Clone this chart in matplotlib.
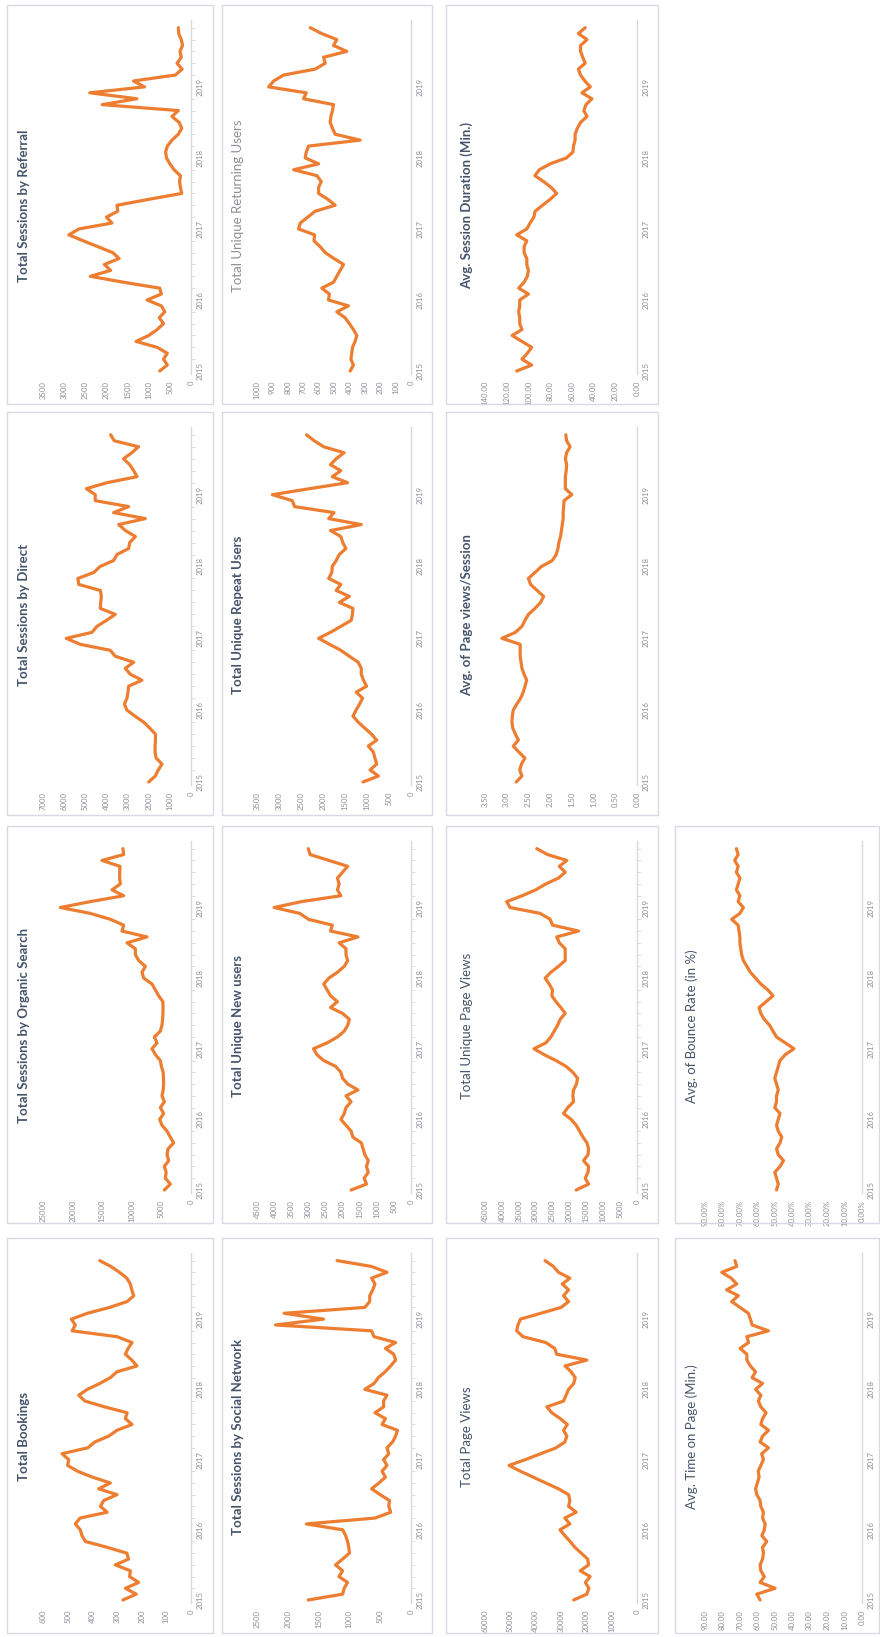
import matplotlib
matplotlib.use("Agg")
import matplotlib.pyplot as plt
from matplotlib.patches import Rectangle
from matplotlib import font_manager
import numpy as np

# Monthly website metrics, Jan 2015 - Nov 2019
months = np.arange(59)
year_ticks = [0, 12, 24, 36, 48]
year_labels = ["2015", "2016", "2017", "2018", "2019"]

referral = [740, 560, 650, 560, 800, 1300, 1000, 800, 650, 750, 620, 700, 1040, 700, 740,
            1600, 2380, 1900, 2050, 1700, 1850, 2200, 2550, 2890, 2650, 1870, 2000, 1730,
            1750, 1000, 220, 250, 270, 250, 400, 500, 580, 600, 560, 450, 300, 220, 280, 450,
            300, 2100, 1280, 2395, 1100, 1360, 370, 210, 330, 230, 260, 200, 230, 290, 300]
direct = [2000, 1690, 1550, 1370, 1650, 1700, 1700, 1680, 1680, 1950, 2240, 2650, 3030, 3150,
          3030, 2980, 2950, 2320, 2870, 3110, 2710, 3580, 3820, 5240, 5900, 4680, 4450, 4000,
          3580, 4290, 4270, 4240, 4290, 5310, 5350, 4600, 4300, 3660, 3500, 2950, 2900, 2630,
          3100, 3420, 2160, 3660, 2950, 4530, 4530, 4950, 3970, 2550, 2710, 2900, 3190, 2800,
          2480, 3630, 3800]
organic = [4500, 3490, 4330, 4200, 4500, 3770, 4050, 3880, 2930, 3500, 4050, 4900, 5290, 4620,
           5180, 4500, 4900, 4700, 4620, 4650, 4700, 5000, 5180, 6020, 6590, 5740, 6190, 5180,
           4900, 4800, 4730, 4730, 4750, 5460, 6020, 6590, 7990, 8280, 7710, 8840, 9400, 9400,
           10810, 7430, 11650, 11370, 13620, 17000, 22070, 17000, 11370, 13340, 11940, 12050,
           12050, 12000, 15030, 11370, 11500]
bookings = [276, 222, 266, 212, 249, 246, 307, 253, 260, 340, 428, 442, 449, 469, 450, 340, 367,
            354, 300, 374, 327, 400, 460, 500, 496, 523, 419, 390, 334, 300, 239, 266, 259, 350,
            430, 455, 420, 370, 327, 300, 219, 240, 266, 255, 239, 300, 482, 469, 485, 420, 330,
            259, 232, 240, 246, 260, 290, 325, 370]
social = [1670, 1110, 1085, 1030, 1170, 1110, 1225, 1110, 1000, 1010, 1030, 1060, 1110, 1700,
          585, 330, 360, 350, 500, 640, 520, 415, 470, 390, 445, 360, 390, 300, 250, 220, 470,
          415, 585, 445, 445, 390, 750, 600, 530, 420, 330, 250, 280, 415, 250, 600, 640, 2200,
          1420, 2060, 750, 670, 670, 620, 585, 640, 390, 640, 1200]
new_users = [1750, 1300, 1370, 1250, 1300, 1250, 1350, 1400, 1450, 1700, 1750, 1900, 2050, 1950,
             1900, 1750, 1900, 1550, 1850, 2000, 2050, 2200, 2550, 2750, 2850, 2450, 2150, 1950,
             1850, 1800, 2000, 2350, 2150, 2350, 2450, 2550, 2400, 2150, 1950, 1850, 1900, 1900,
             2100, 1550, 2350, 2300, 3000, 3250, 4000, 3200, 2050, 2150, 2100, 2150, 2000, 1850,
             2400, 2950, 3000]
repeat_users = [1090, 740, 930, 780, 820, 855, 970, 780, 900, 1050, 1200, 1320, 1250, 1170, 1100,
                1245, 1010, 1080, 1130, 1130, 1200, 1400, 1595, 1850, 2100, 1830, 1595, 1360,
                1330, 1320, 1630, 1400, 1700, 1595, 1870, 1800, 1790, 1700, 1630, 1480, 1550,
                1595, 1830, 1130, 1870, 1750, 2645, 2700, 3150, 2300, 1440, 1790, 1595, 1830,
                1700, 1520, 1985, 2200, 2375]
returning = [395, 374, 390, 385, 380, 363, 352, 374, 400, 428, 482, 406, 536, 530, 579, 503, 482,
             460, 438, 500, 557, 590, 630, 626, 730, 719, 670, 622, 492, 540, 600, 600, 583, 611,
             762, 600, 687, 680, 665, 330, 492, 510, 525, 520, 510, 503, 698, 680, 924, 892, 827,
             622, 557, 568, 417, 503, 482, 580, 654]
page_views = [25000, 19800, 19000, 20400, 18500, 22400, 19100, 19500, 22000, 24500, 26400, 28500,
              30400, 26500, 28500, 24000, 27000, 26500, 27000, 31000, 36000, 41000, 46000, 50500,
              44000, 38000, 32000, 28500, 27700, 29000, 27500, 30300, 33600, 35600, 29000, 28000,
              27000, 25000, 24400, 26000, 28400, 19800, 31700, 32500, 36000, 45000, 47500, 47000,
              46000, 38000, 30000, 27000, 29000, 27000, 29500, 26500, 31000, 33000, 36300]
unique_pv = [18000, 14340, 15330, 14500, 14340, 15820, 14500, 14340, 14800, 16000, 17000, 18000,
             19500, 21760, 20500, 18790, 18990, 18800, 17900, 17600, 19000, 21000, 24000, 27500,
             30500, 27000, 25500, 24500, 23500, 22750, 21260, 22550, 24000, 25220, 25000, 26000,
             27200, 25500, 23240, 21260, 21260, 21260, 23000, 23740, 17310, 25000, 25710, 28680,
             37580, 38570, 34000, 30000, 27000, 23240, 21260, 23000, 20770, 26500, 29670]
pv_per_session = [2.78, 2.65, 2.70, 2.66, 2.58, 2.72, 2.85, 2.73, 2.80, 2.86, 2.88, 2.87, 2.85,
                  2.77, 2.68, 2.62, 2.58, 2.54, 2.60, 2.65, 2.67, 2.69, 2.69, 2.69, 3.11, 2.80,
                  2.65, 2.58, 2.50, 2.35, 2.22, 2.15, 2.30, 2.45, 2.50, 2.35, 2.20, 1.95, 1.86,
                  1.82, 1.80, 1.76, 1.74, 1.72, 1.70, 1.70, 1.69, 1.68, 1.50, 1.65, 1.65, 1.65,
                  1.63, 1.62, 1.65, 1.62, 1.54, 1.62, 1.64]
session_duration = [110.8, 97, 106, 101, 97, 106, 115, 106, 108, 108, 109, 108, 108, 100, 109, 104,
                    101, 100, 101.5, 101.5, 104, 104, 101.5, 110.8, 101.5, 98.5, 95, 93.8, 87, 80,
                    74, 79, 86, 94, 90, 80, 65, 59, 58.5, 57, 57, 55, 52, 46, 49, 47, 41.5, 50.7,
                    43, 48, 52, 54, 47.7, 50, 52, 52, 46, 54, 47.7]
time_on_page = [58.4, 60.3, 49.8, 58.4, 56, 58, 58.4, 57, 56.5, 57, 54.6, 57.4, 56, 55.5, 57, 56.5,
                58, 58.4, 60.3, 61, 60, 59, 59.5, 58, 56.5, 57.5, 53.6, 58.4, 57, 53.6, 58, 57, 55,
                58, 59.4, 58, 61, 57, 63, 61, 64, 66, 66, 69.9, 65, 66, 53.6, 63, 64, 65.1, 69.9,
                74.7, 70.9, 77.6, 71.8, 75, 80.4, 71.8, 72.8]
bounce_rate = [49, 48, 49, 50, 47, 45, 48, 49, 47, 46, 48, 49, 48, 47, 50, 49, 49, 48, 49, 50, 49,
               48, 47, 44, 39, 44, 49, 51, 53, 56, 58, 59, 55, 51, 54, 58, 61, 64, 66, 68, 69,
               69.5, 70, 70, 70.5, 71, 74.7, 70, 68, 71, 70, 72, 71, 70, 72, 71, 73, 71, 72]

W, H = 880, 1637
installed = {f.name for f in font_manager.fontManager.ttflist}
narrow = "Liberation Sans Narrow" if "Liberation Sans Narrow" in installed else "Lato"

ORANGE = "#ed7d31"
TITLE = "#44546a"
LABEL = "#8b8f98"
BORDER = "#d8dae3"
AXIS = "#d9d9d9"

fig = plt.figure(figsize=(W / 100, H / 100), dpi=100)
fig.patch.set_facecolor("white")

# column geometry in pixels: box left/right, position of the top value and of zero
cols = {
    1: dict(x0=7, x1=213, vtop=43, vzero=191, tx=24),
    2: dict(x0=222, x1=432, vtop=257, vzero=411, tx=238),
    3: dict(x0=446, x1=658, vtop=485, vzero=637, tx=467),
    4: dict(x0=675, x1=879, vtop=705, vzero=862, tx=692),
}
# row geometry in pixels: box top/bottom
rows = {
    1: (5, 404),
    2: (412, 815),
    3: (826, 1223),
    4: (1238, 1633),
}


def panel(col, row, data, vmax, step, fmt, title, tsize=9.5, bold=True,
          tcolor=TITLE, minor=True):
    c = cols[col]
    y0, y1 = rows[row]
    fig.add_artist(Rectangle((c["x0"] / W, 1 - y1 / H), (c["x1"] - c["x0"]) / W,
                             (y1 - y0) / H, transform=fig.transFigure, fill=False,
                             ec=BORDER, lw=1.0))
    top = y0 + 15
    first = y1 - 33
    per = (first - top) / 59.3
    bottom = first + 0.5 * per
    ax = fig.add_axes([c["vtop"] / W, 1 - bottom / H, (c["vzero"] - c["vtop"]) / W,
                       (bottom - top) / H])
    ax.patch.set_alpha(0)
    ax.plot(data, months, color=ORANGE, lw=2.3, solid_joinstyle="round",
            solid_capstyle="round")
    ax.set_xlim(vmax, 0)
    ax.set_ylim(-0.5, 59.3)
    for s in ["left", "top", "bottom"]:
        ax.spines[s].set_visible(False)
    ax.spines["right"].set_color(AXIS)
    ax.spines["right"].set_linewidth(1.0)

    vals = np.arange(0, vmax + step / 2, step)
    ax.set_xticks(vals)
    ax.set_xticklabels([fmt % v for v in vals], rotation=90, fontsize=5.6,
                       color=LABEL, family=narrow)
    ax.tick_params(axis="x", length=0, pad=5)

    ax.yaxis.tick_right()
    ax.set_yticks(year_ticks)
    ax.set_yticklabels(year_labels, rotation=90, va="center", fontsize=5.6,
                       color=LABEL, family=narrow)
    ax.tick_params(axis="y", length=0, pad=4)
    if minor:
        ax.set_yticks(np.arange(0, 60, 2), minor=True)
        ax.tick_params(axis="y", which="minor", length=3, width=0.6, color=AXIS,
                       direction="out")

    fig.text(c["tx"] / W, 1 - ((top + bottom) / 2 + 9) / H, title, rotation=90,
             ha="center", va="center", fontsize=tsize, color=tcolor,
             fontweight="bold" if bold else "normal", family=narrow)
    return ax


panel(1, 1, referral, 3500, 500, "%d", "Total Sessions by Referral")
panel(1, 2, direct, 7000, 1000, "%d", "Total Sessions by Direct")
panel(1, 3, organic, 25000, 5000, "%d", "Total Sessions by Organic Search")
panel(1, 4, bookings, 600, 100, "%d", "Total Bookings")

panel(2, 1, returning, 1000, 100, "%d", "Total Unique Returning Users", bold=False,
      tcolor="#8a8f99", minor=False)
panel(2, 2, repeat_users, 3500, 500, "%d", "Total Unique Repeat Users", minor=False)
panel(2, 3, new_users, 4500, 500, "%d", "Total Unique New users")
panel(2, 4, social, 2500, 500, "%d", "Total Sessions by Social Network")

panel(3, 1, session_duration, 140, 20, "%.2f", "Avg. Session Duration (Min.)", minor=False)
panel(3, 2, pv_per_session, 3.5, 0.5, "%.2f", "Avg. of Page views/Session", minor=False)
panel(3, 3, unique_pv, 45000, 5000, "%d", "Total Unique Page Views", bold=False)
panel(3, 4, page_views, 60000, 10000, "%d", "Total Page Views", bold=False, minor=False)

panel(4, 3, bounce_rate, 90, 10, "%.2f%%", "Avg. of Bounce Rate (in %)", bold=False,
      minor=False)
panel(4, 4, time_on_page, 90, 10, "%.2f", "Avg. Time on Page (Min.)", bold=False,
      minor=False)

fig.savefig("out.png", dpi=100, facecolor="white")
